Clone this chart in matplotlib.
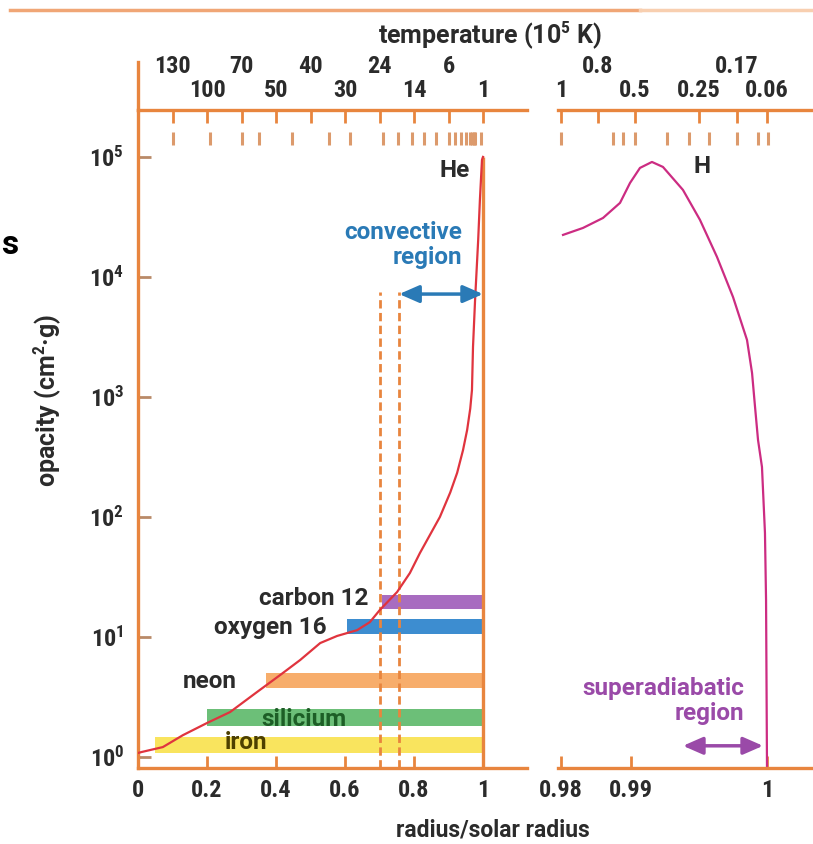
import numpy as np
import matplotlib
matplotlib.use('Agg')
import matplotlib.pyplot as plt
from matplotlib import font_manager
from matplotlib.lines import Line2D
from matplotlib.ticker import LogFormatterMathtext, NullLocator

# opacity profile inside the sun (left panel, radius 0..1)
radius_core = [0.0, 0.01, 0.072, 0.13, 0.20, 0.267, 0.345, 0.412, 0.47, 0.528, 0.577,
               0.635, 0.672, 0.701, 0.751, 0.788, 0.817, 0.875, 0.905, 0.925, 0.942,
               0.954, 0.963, 0.968, 0.971, 0.977, 0.986, 0.991, 0.997, 1.0]
opacity_core = [1.08, 1.10, 1.21, 1.52, 1.92, 2.37, 3.48, 4.82, 6.43, 8.9, 10.2,
                11.4, 13.3, 16.8, 23.7, 34.1, 50, 100, 160, 233, 360,
                531, 800, 1143, 2612, 6427, 20300, 43900, 94400, 100000]

# opacity near the surface (right panel, radius 0.98..1)
radius_surface = [0.98029, 0.98314, 0.986, 0.98843, 0.98986, 0.99066, 0.99154, 0.99235,
                  0.99382, 0.99507, 0.99632, 0.9975, 0.99853, 0.9989, 0.99912, 0.99934,
                  0.99963, 0.99985, 0.99993, 1.0]
opacity_surface = [22400, 25600, 31000, 41400, 60700, 81000, 90800, 82500,
                   53100, 29900, 14700, 6810, 2985, 1585, 826, 438,
                   261, 73.6, 20.3, 0.8]

# element bands
band_names = ['carbon 12', 'oxygen 16', 'neon', 'silicium', 'iron']
band_start = [0.707, 0.605, 0.37, 0.20, 0.05]
band_low = [17.1, 10.6, 3.76, 1.81, 1.08]
band_high = [22.4, 14.1, 5.0, 2.51, 1.47]
band_colors = ['#a86cc0', '#3d8dd0', '#f7ad6b', '#6cbf78', '#f9e45e']

# temperature scale (10^5 K) on top
temp_left_pos = [0.1, 0.2, 0.3, 0.4, 0.5, 0.6, 0.7, 0.8, 0.9, 1.0]
temp_left_labels = ['130', '100', '70', '50', '40', '30', '24', '14', '6', '1']
temp_left_minor = [0.10, 0.21, 0.30, 0.35, 0.445, 0.555, 0.615, 0.71, 0.755, 0.795,
                   0.83, 0.865, 0.90, 0.92, 0.935, 0.95, 0.963, 0.968, 0.973, 0.978, 0.995]
temp_right_pos = [0.98, 0.98529, 0.99029, 0.995, 0.99779, 1.0]
temp_right_labels = ['1', '0.8', '0.5', '0.25', '0.17', '0.06']
temp_right_minor = [0.98, 0.98743, 0.98886, 0.99029, 0.99265, 0.99426, 0.99574,
                    0.99779, 0.99934, 1.00007]

convective_edges = [0.70, 0.757]

ORANGE = '#e8853e'
ORANGE_LT = '#dc9a6c'
RED = '#e0343e'
MAGENTA = '#cc2c82'
TEXT = '#2b2b2b'

# condensed font for numbers, wider one for the words
available = {f.name for f in font_manager.fontManager.ttflist}
FONT = next(n for n in ['Roboto Condensed', 'Liberation Sans Narrow', 'Roboto', 'DejaVu Sans']
            if n in available)
WIDE = next(n for n in ['Roboto', 'Lato', 'DejaVu Sans'] if n in available)

plt.rcParams['font.family'] = [FONT, 'DejaVu Sans']
plt.rcParams['font.weight'] = 'bold'
plt.rcParams['mathtext.fontset'] = 'custom'
plt.rcParams['mathtext.rm'] = FONT + ':bold'
plt.rcParams['mathtext.it'] = FONT + ':bold'
plt.rcParams['mathtext.bf'] = FONT + ':bold'
plt.rcParams['mathtext.default'] = 'rm'

fig = plt.figure(figsize=(8.13, 8.44), dpi=100)
W, H = 813, 844
ax = fig.add_axes([138 / W, 76 / H, 389 / W, 658 / H])
axr = fig.add_axes([558 / W, 76 / H, 255 / W, 658 / H])

ylo, yhi = 0.81, 2.46e5
FS = 17.5    # tick labels
LS = 17.5    # word labels
wide = dict(family=[WIDE, 'DejaVu Sans'])

# ---- left panel
ax.set_yscale('log')
ax.set_xlim(0, 1.1275)
ax.set_ylim(ylo, yhi)
for start, lo, hi, col in zip(band_start, band_low, band_high, band_colors):
    ax.fill_between([start, 1.0], lo, hi, color=col, lw=0, zorder=1)
ax.vlines(convective_edges, ylo, 7500, color=ORANGE, lw=2, linestyles=(0, (3, 1.6)), zorder=2)
ax.vlines(1.0, ylo, 1e5, color=ORANGE, lw=2.4, zorder=3)
ax.plot(radius_core, opacity_core, color=RED, lw=1.6, zorder=4)

ax.set_xticks([0, 0.2, 0.4, 0.6, 0.8, 1.0], ['0', '0.2', '0.4', '0.6', '0.8', '1'])
ax.tick_params(axis='x', direction='in', length=9, width=2, color=ORANGE, pad=8,
               labelsize=FS, labelcolor=TEXT)
ax.set_yticks([1, 10, 100, 1e3, 1e4, 1e5])
ax.yaxis.set_major_formatter(LogFormatterMathtext())
ax.yaxis.set_minor_locator(NullLocator())
ax.tick_params(axis='y', direction='in', length=9, width=2, color='#b98a68', pad=10,
               labelsize=FS, labelcolor=TEXT)
ax.spines['right'].set_visible(False)
for s in ['left', 'bottom', 'top']:
    ax.spines[s].set_color(ORANGE)
    ax.spines[s].set_linewidth(2.4)
# left spine runs up past the temperature axis
ax.plot([0, 0], [1, 1.073], transform=ax.transAxes, color=ORANGE, lw=2.4, clip_on=False)
ax.vlines(temp_left_minor, 0.947, 0.967, transform=ax.get_xaxis_transform(),
          color=ORANGE_LT, lw=2.2)

axt = ax.twiny()
axt.set_xlim(ax.get_xlim())
axt.set_xticks(temp_left_pos[0::2], temp_left_labels[0::2])
axt.set_xticks(temp_left_pos[1::2], temp_left_labels[1::2], minor=True)
axt.tick_params(which='both', direction='in', length=9, width=2, color=ORANGE,
                labelsize=FS, labelcolor=TEXT)
axt.tick_params(which='major', pad=23)
axt.tick_params(which='minor', pad=6)
for s in axt.spines.values():
    s.set_visible(False)

ax.text(0.919, 77600, 'He', ha='center', va='center', fontsize=LS, color=TEXT, **wide)
ax.text(0.939, 18500, 'convective\nregion', ha='right', va='center', fontsize=LS,
        color='#2a7ab6', linespacing=1.1, multialignment='right', **wide)
ax.annotate('', xy=(1.0, 7200), xytext=(convective_edges[1], 7200),
            arrowprops=dict(arrowstyle='<|-|>,head_length=0.8,head_width=0.35',
                            color='#2a7ab6', lw=2.5, mutation_scale=15,
                            shrinkA=0, shrinkB=0), zorder=5)

label_x = [0.667, 0.548, 0.130, 0.359, 0.252]
label_y = [21.1, 12.1, 4.22, 2.07, 1.31]
label_ha = ['right', 'right', 'left', 'left', 'left']
label_col = [TEXT, TEXT, TEXT, '#1d5e26', '#4d4000']
for name, x, y, ha, c in zip(band_names, label_x, label_y, label_ha, label_col):
    ax.text(x, y, name, ha=ha, va='center', fontsize=LS, color=c, zorder=6, **wide)

# ---- right panel (stretched scale near the surface)
r_knots = [0.97, 0.98, 0.99, 1.0, 1.01]
u_knots = [-70, 0, 70, 206, 342]


def fwd(r):
    return np.interp(r, r_knots, u_knots)


def inv(u):
    return np.interp(u, u_knots, r_knots)


axr.set_xscale('function', functions=(fwd, inv))
axr.set_yscale('log')
axr.set_xlim(0.979571, 1.003382)
axr.set_ylim(ylo, yhi)
axr.plot(radius_surface, opacity_surface, color=MAGENTA, lw=1.6)
axr.set_xticks([0.98, 0.99, 1.0], ['0.98', '0.99', '1'])
axr.xaxis.set_minor_locator(NullLocator())
axr.tick_params(axis='x', direction='in', length=9, width=2, color=ORANGE, pad=8,
                labelsize=FS, labelcolor=TEXT)
axr.set_yticks([])
axr.yaxis.set_minor_locator(NullLocator())
for s in ['left', 'right']:
    axr.spines[s].set_visible(False)
for s in ['bottom', 'top']:
    axr.spines[s].set_color(ORANGE)
    axr.spines[s].set_linewidth(2.4)
axr.vlines(temp_right_minor, 0.947, 0.967, transform=axr.get_xaxis_transform(),
           color=ORANGE_LT, lw=2.2)

axrt = axr.twiny()
axrt.set_xscale('function', functions=(fwd, inv))
axrt.set_xlim(axr.get_xlim())
up = [1, 4]
low = [0, 2, 3, 5]
axrt.set_xticks([temp_right_pos[i] for i in up], [temp_right_labels[i] for i in up])
axrt.set_xticks([temp_right_pos[i] for i in low], [temp_right_labels[i] for i in low], minor=True)
axrt.tick_params(which='both', direction='in', length=9, width=2, color=ORANGE,
                 labelsize=FS, labelcolor=TEXT)
axrt.tick_params(which='major', pad=23)
axrt.tick_params(which='minor', pad=6)
for s in axrt.spines.values():
    s.set_visible(False)

axr.text(0.99522, 82500, 'H', ha='center', va='center', fontsize=LS, color=TEXT, **wide)
axr.text(0.99831, 2.93, 'superadiabatic\nregion', ha='right', va='center', fontsize=LS,
         color='#9a4aa8', linespacing=1.1, multialignment='right', **wide)
axr.annotate('', xy=(0.99971, 1.24), xytext=(0.99382, 1.24),
             arrowprops=dict(arrowstyle='<|-|>,head_length=0.8,head_width=0.35',
                             color='#9a4aa8', lw=2.5, mutation_scale=15,
                             shrinkA=0, shrinkB=0))

# ---- figure texts
fig.text(490 / W, 1 - 35 / H, 'temperature (10$^5$ K)', ha='center', va='center',
         fontsize=18, color=TEXT, **wide)
fig.text(493 / W, 1 - 830 / H, 'radius/solar radius', ha='center', va='center',
         fontsize=16.5, color=TEXT, **wide)
fig.text(47 / W, 1 - 400 / H, 'opacity (cm$^2$·g)', ha='center', va='center',
         rotation=90, fontsize=18, color=TEXT, **wide)
fig.text(1 / W, 1 - 245 / H, 's', ha='left', va='center', fontsize=24,
         color='black', **wide)
fig.add_artist(Line2D([10 / W, 640 / W], [1 - 10 / H] * 2, transform=fig.transFigure,
                      color='#f0a676', lw=2.5))
fig.add_artist(Line2D([640 / W, 1.0], [1 - 10 / H] * 2, transform=fig.transFigure,
                      color='#f8cfb0', lw=2.5))

fig.savefig('out.png', dpi=100)
